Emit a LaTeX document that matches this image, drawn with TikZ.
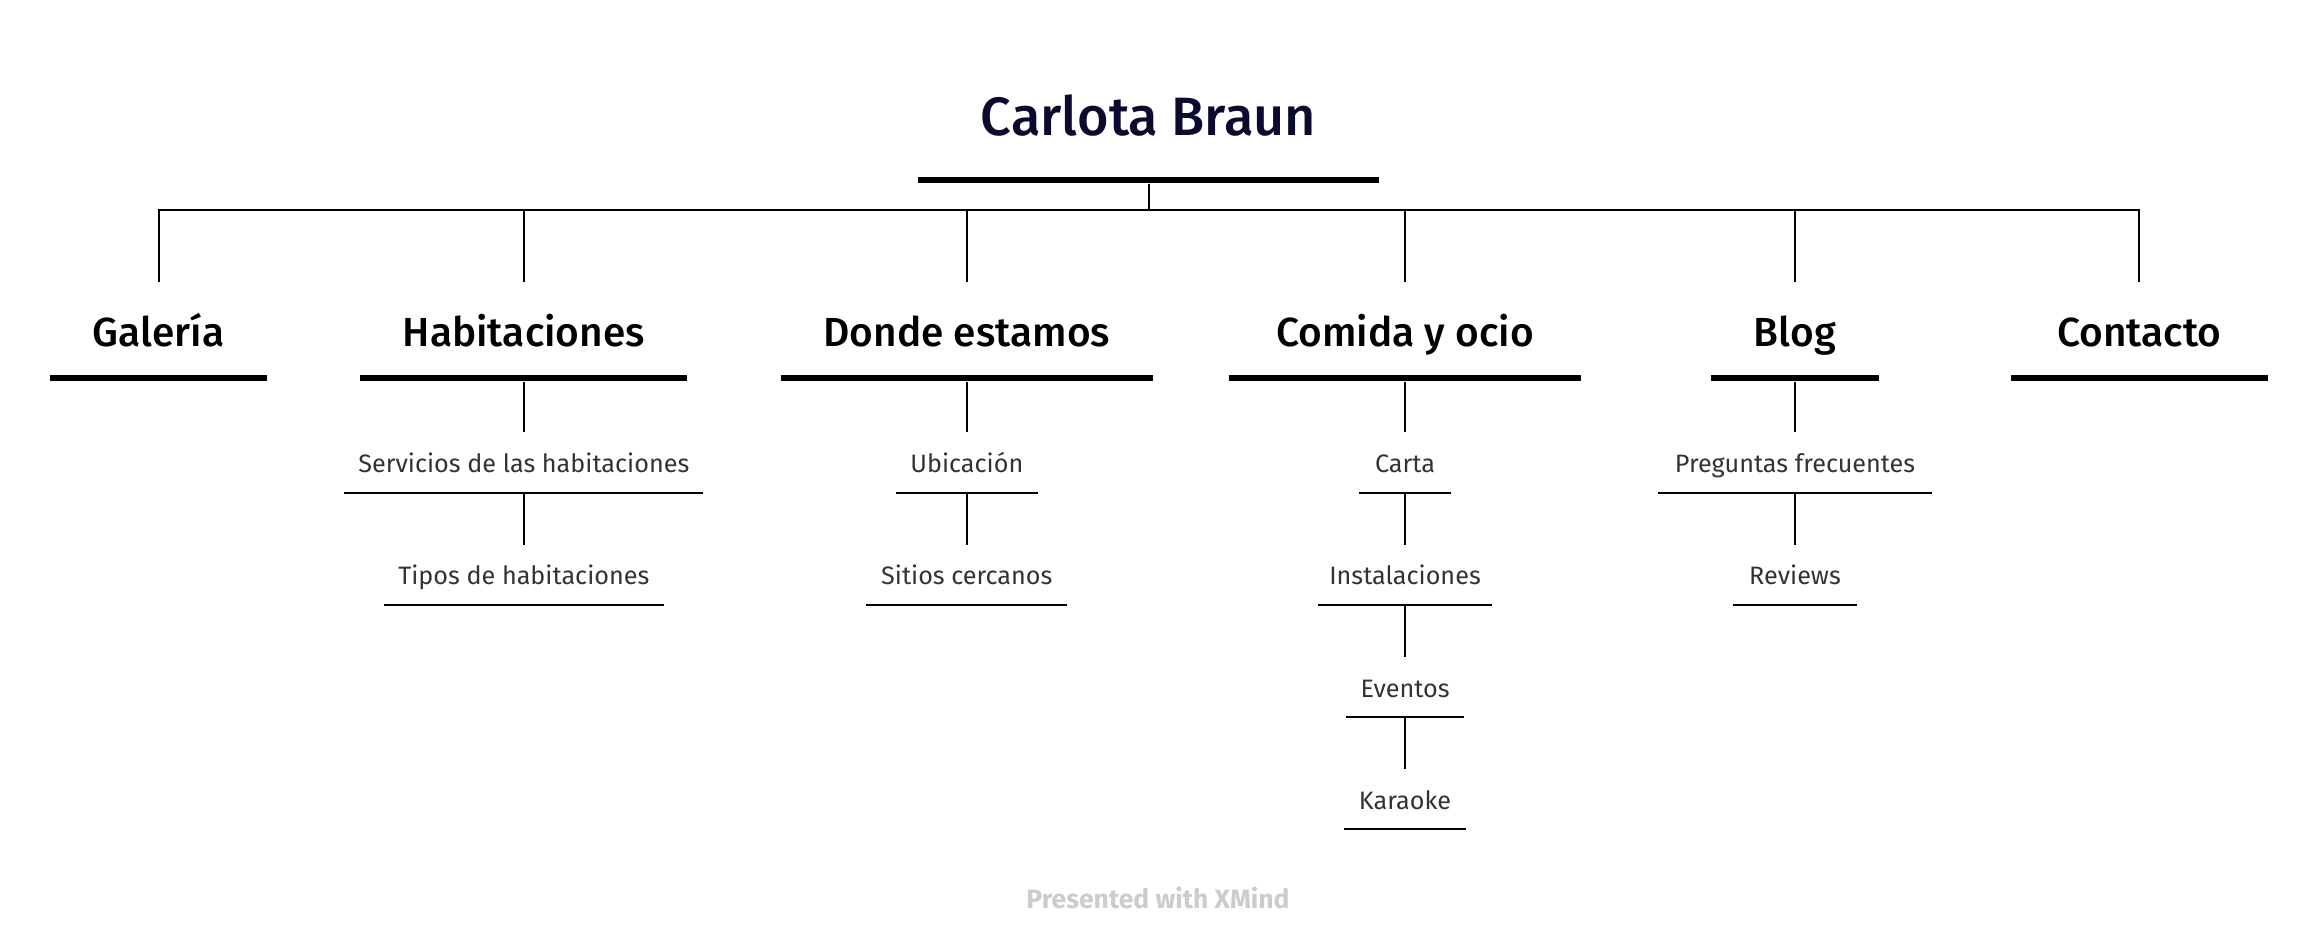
\documentclass[tikz,border=0pt]{standalone}
\usepackage{fontspec}
\setmainfont{Fira Sans}
\newfontfamily\medfont{Fira Sans Medium}
\definecolor{titlecol}{HTML}{0A0A2E}
\definecolor{subcol}{HTML}{333333}
\definecolor{markcol}{HTML}{CCCCCC}
\begin{document}
\begin{tikzpicture}[x=1pt,y=-1pt,
 titletext/.style={anchor=base, inner sep=0pt, font=\medfont\fontsize{54}{60}\selectfont, text=titlecol},
 maintopic/.style={anchor=base, inner sep=0pt, text height=63.6pt, text depth=0pt, font=\medfont\fontsize{40.6}{46}\selectfont, text=black},
 subtopic/.style={anchor=base, inner sep=0pt, text height=40pt, text depth=0pt, font=\fontsize{25.2}{30}\selectfont, text=subcol},
 thickline/.style={fill=black, draw=none, inner sep=0pt, minimum height=6pt},
 thinline/.style={fill=black, draw=none, inner sep=0pt, minimum height=2pt},
 conn/.style={draw=black, line width=2pt},
]
\useasboundingbox[fill=white] (0,0) rectangle (2318,950);
% root
\node[titletext] (root) at (1148.6,135) {Carlota Braun};
\node[thickline, minimum width=461pt] (uroot) at (1148.6,180.4) {};
\coordinate (bus) at (0,210);
% main topics
\node[maintopic] (tgal) at (158.6,346) {Galería};
\node[thickline, minimum width=217.3pt] (ugal) at (158.6,378.4) {};
\node[maintopic] (thab) at (523.8,346) {Habitaciones};
\node[thickline, minimum width=326.7pt] (uhab) at (523.8,378.4) {};
\node[maintopic] (tdon) at (966.8,346) {Donde estamos};
\node[thickline, minimum width=372.6pt] (udon) at (966.8,378.4) {};
\node[maintopic] (tcom) at (1405,346) {Comida y ocio};
\node[thickline, minimum width=351.8pt] (ucom) at (1405,378.4) {};
\node[maintopic] (tblo) at (1795,346) {Blog};
\node[thickline, minimum width=167.2pt] (ublo) at (1795,378.4) {};
\node[maintopic] (tcon) at (2139.1,346) {Contacto};
\node[thickline, minimum width=257.2pt] (ucon) at (2139.1,378.4) {};
% subtopics: Habitaciones
\node[subtopic] (tser) at (523.8,472.5) {Servicios de las habitaciones};
\node[thinline, minimum width=359.3pt] (user) at (523.8,492.5) {};
\node[subtopic] (ttip) at (523.8,584.8) {Tipos de habitaciones};
\node[thinline, minimum width=279.4pt] (utip) at (523.8,604.8) {};
% Donde estamos
\node[subtopic] (tubi) at (966.8,472.5) {Ubicación};
\node[thinline, minimum width=141.9pt] (uubi) at (966.8,492.5) {};
\node[subtopic] (tsit) at (966.8,584.8) {Sitios cercanos};
\node[thinline, minimum width=201pt] (usit) at (966.8,604.8) {};
% Comida y ocio
\node[subtopic] (tcar) at (1405,472.5) {Carta};
\node[thinline, minimum width=91.7pt] (ucar) at (1405,492.5) {};
\node[subtopic] (tins) at (1405,584.8) {Instalaciones};
\node[thinline, minimum width=174.4pt] (uins) at (1405,604.8) {};
\node[subtopic] (teve) at (1405,697.1) {Eventos};
\node[thinline, minimum width=118.3pt] (ueve) at (1405,717.1) {};
\node[subtopic] (tkar) at (1405,809.4) {Karaoke};
\node[thinline, minimum width=121.3pt] (ukar) at (1405,829.4) {};
% Blog
\node[subtopic] (tpre) at (1795,472.5) {Preguntas frecuentes};
\node[thinline, minimum width=274.9pt] (upre) at (1795,492.5) {};
\node[subtopic] (trev) at (1795,584.8) {Reviews};
\node[thinline, minimum width=124.2pt] (urev) at (1795,604.8) {};
% connectors root -> main
\foreach \t in {tgal,thab,tdon,tcom,tblo,tcon}
  \draw[conn] (uroot.south) -- (uroot.south |- bus) -| (\t.north);
% main -> sub
\draw[conn] (uhab.south) -- (tser.north);
\draw[conn] (user.south) -- (ttip.north);
\draw[conn] (udon.south) -- (tubi.north);
\draw[conn] (uubi.south) -- (tsit.north);
\draw[conn] (ucom.south) -- (tcar.north);
\draw[conn] (ucar.south) -- (tins.north);
\draw[conn] (uins.south) -- (teve.north);
\draw[conn] (ueve.south) -- (tkar.north);
\draw[conn] (ublo.south) -- (tpre.north);
\draw[conn] (upre.south) -- (trev.north);
% watermark
\node[anchor=base, inner sep=0pt, font=\bfseries\fontsize{26.5}{30}\selectfont, text=markcol] (mark) at (1158,908) {Presented with XMind};
\end{tikzpicture}
\end{document}
